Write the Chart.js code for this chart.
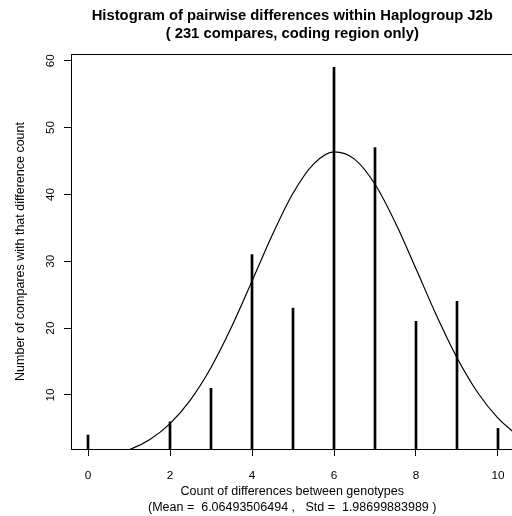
<!DOCTYPE html>
<html>
<head>
<meta charset="utf-8">
<script src="https://cdn.jsdelivr.net/npm/chart.js@4"></script>
<style>
  html, body { margin: 0; padding: 0; background: #fff; overflow: hidden; }
  #wrap { position: relative; width: 520px; height: 516px; }
</style>
</head>
<body>
<div id="wrap"><canvas id="diffChart" width="520" height="516"></canvas></div>
<script>
// pairwise difference counts (0..10 differences)
const diffs = [0, 1, 2, 3, 4, 5, 6, 7, 8, 9, 10];
const counts = [4, 0, 6, 11, 31, 23, 59, 47, 21, 24, 5];

// fitted normal curve
const curveX = [0, 0.5, 1, 1.5, 2, 2.5, 3, 3.5, 4, 4.5, 5, 5.5, 6, 6.5, 7, 7.5, 8, 8.5, 9, 9.5, 10, 10.5];
const curveY = [0.44, 0.92, 1.80, 3.31, 5.72, 9.27, 14.11, 20.16, 27.03, 34.01, 40.18, 44.54, 46.36, 45.28, 41.52, 35.73, 28.87, 21.89, 15.58, 10.41, 6.53, 3.84];

const xTicks = [0, 2, 4, 6, 8, 10];
const yTicks = [10, 20, 30, 40, 50, 60];

const titleLines = ["Histogram of pairwise differences within Haplogroup J2b", "( 231 compares, coding region only)"];
const xTitleLines = ["Count of differences between genotypes", "(Mean =  6.06493506494 ,   Std =  1.98699883989 )"];
const yTitle = "Number of compares with that difference count";

const FONT = '"Liberation Sans", Arial, Helvetica, sans-serif';

// x range picked so each integer lands on a whole pixel (41px per unit)
const X_MIN = -17 / 41;
const X_MAX = X_MIN + 442.5 / 41;

const rText = {
  id: 'rText',
  afterDraw(chart) {
    const ctx = chart.ctx;
    const area = chart.chartArea;
    const cx = (area.left + area.right) / 2;
    const cy = (area.top + area.bottom) / 2;
    ctx.save();
    // rest of the box
    ctx.strokeStyle = '#000';
    ctx.lineWidth = 1;
    ctx.beginPath();
    ctx.moveTo(Math.round(area.left) + 0.5, Math.round(area.top) + 0.5);
    ctx.lineTo(Math.round(area.right) + 0.5, Math.round(area.top) + 0.5);
    ctx.lineTo(Math.round(area.right) + 0.5, Math.round(area.bottom) + 0.5);
    ctx.stroke();

    ctx.fillStyle = '#000';
    ctx.textAlign = 'center';
    ctx.textBaseline = 'alphabetic';

    ctx.font = 'bold 14.8px ' + FONT;
    ctx.fillText(titleLines[0], cx, 20);
    ctx.fillText(titleLines[1], cx, 38);

    ctx.font = '12.5px ' + FONT;
    ctx.fillText(xTitleLines[0], cx, 495);
    ctx.fillText(xTitleLines[1], cx, 511);

    ctx.save();
    ctx.translate(24, cy);
    ctx.rotate(-Math.PI / 2);
    ctx.fillText(yTitle, 0, 0);
    ctx.restore();

    // y tick labels, rotated like R
    ctx.font = '11.8px ' + FONT;
    const ys = chart.scales.y;
    ys.ticks.forEach(t => {
      ctx.save();
      ctx.translate(53.5, ys.getPixelForValue(t.value));
      ctx.rotate(-Math.PI / 2);
      ctx.fillText(String(t.value), 0, 0);
      ctx.restore();
    });

    ctx.restore();
  }
};

const ctx = document.getElementById('diffChart').getContext('2d');
new Chart(ctx, {
  type: 'bar',
  data: {
    datasets: [
      {
        type: 'bar',
        data: diffs.map((d, i) => ({ x: d, y: counts[i] })),
        backgroundColor: '#000',
        barThickness: 2,
        borderWidth: 0
      },
      {
        type: 'line',
        data: curveX.map((d, i) => ({ x: d, y: curveY[i] })),
        borderColor: '#000',
        borderWidth: 1.2,
        pointRadius: 0,
        fill: false,
        cubicInterpolationMode: 'monotone'
      }
    ]
  },
  options: {
    responsive: false,
    animation: false,
    devicePixelRatio: 1,
    layout: { padding: { top: 54, right: 6.5, left: 0, bottom: 0 } },
    plugins: {
      legend: { display: false },
      tooltip: { enabled: false },
      title: { display: false }
    },
    scales: {
      x: {
        type: 'linear',
        min: X_MIN,
        max: X_MAX,
        offset: false,
        afterBuildTicks: s => { s.ticks = xTicks.map(v => ({ value: v })); },
        afterFit: s => { s.height = 67; },
        grid: { drawOnChartArea: false, drawTicks: true, tickLength: 7, color: '#000', offset: false },
        border: { color: '#000', width: 1 },
        ticks: { color: '#000', font: { family: FONT, size: 11.8 }, padding: 13, maxRotation: 0, autoSkip: false }
      },
      y: {
        type: 'linear',
        min: 1.92,
        max: 61.0,
        afterBuildTicks: s => { s.ticks = yTicks.map(v => ({ value: v })); },
        afterFit: s => { s.width = 71; },
        grid: { drawOnChartArea: false, drawTicks: true, tickLength: 7, color: '#000' },
        border: { color: '#000', width: 1 },
        ticks: { display: false }
      }
    }
  },
  plugins: [rText]
});
</script>
</body>
</html>
